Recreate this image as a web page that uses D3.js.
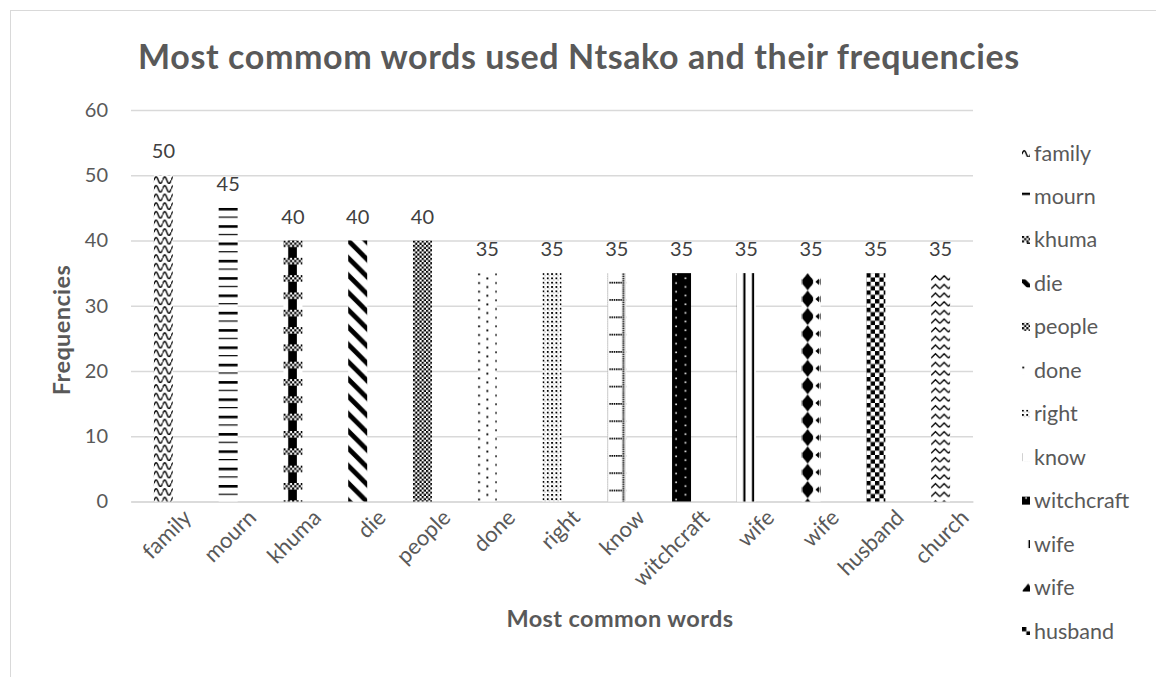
<!DOCTYPE html>
<html>
<head>
<meta charset="utf-8">
<script src="https://cdn.jsdelivr.net/npm/d3@7"></script>
<style>
  html, body { margin: 0; padding: 0; background: #ffffff; }
  svg { display: block; font-family: Lato, "Open Sans", sans-serif; }
</style>
</head>
<body>
<svg id="chart" width="1156" height="677"></svg>
<script>
// Word frequency data
const words = ["family", "mourn", "khuma", "die", "people", "done", "right", "know", "witchcraft", "wife", "wife", "husband", "church"];
const freqs = [50, 45, 40, 40, 40, 35, 35, 35, 35, 35, 35, 35, 35];
// Fill pattern used for each word's bar
const fills = ["wave", "hlines", "column", "diag", "fine", "sparse", "dots", "grid", "inverse", "vlines", "sphere", "checker", "zigzag"];
const yTicks = [0, 10, 20, 30, 40, 50, 60];
// The legend only has room for the first twelve series
const legendCount = 12;

const title = "Most commom words used Ntsako and their frequencies";
const xTitle = "Most common words";
const yTitle = "Frequencies";

const W = 1156, H = 677;
const plot = { left: 131, right: 973, top: 110, bottom: 501.5 };
const textColor = "#595959";
const gridColor = "#d9d9d9";
const font = "Lato, 'Open Sans', sans-serif";

const svg = d3.select("#chart");
const defs = svg.append("defs");

const x = d3.scaleBand()
  .domain(d3.range(words.length))
  .range([plot.left, plot.right])
  .paddingInner(0.707)
  .paddingOuter(0.3535);

const y = d3.scaleLinear().domain([0, 60]).range([plot.bottom, plot.top]);

// One pattern "pixel" and an 8-pixel tile
const u = 2.165;
const T = 8 * u;

// Builds a black-on-white pattern anchored at (ox, oy)
function makePattern(id, kind, ox, oy) {
  const sizes = {
    wave: [4 * u, 4 * u], hlines: [4 * u, 8 * u], column: [T, T], diag: [T, T],
    fine: [2 * u, 2 * u], sparse: [T, 4 * u], dots: [2 * u, 2 * u], grid: [T, T],
    inverse: [T, 4 * u], vlines: [4 * u, 4 * u], sphere: [T, T], checker: [4 * u, 4 * u],
    zigzag: [4 * u, 4 * u]
  };
  const [pw, ph] = sizes[kind];
  const p = defs.append("pattern")
    .attr("id", id)
    .attr("patternUnits", "userSpaceOnUse")
    .attr("x", ox).attr("y", oy)
    .attr("width", pw).attr("height", ph);
  const bg = kind === "inverse" ? "#000" : "#fff";
  p.append("rect").attr("width", pw).attr("height", ph).attr("fill", bg);
  const blk = "#000";
  switch (kind) {
    case "wave":
      p.append("path")
        .attr("d", `M0,${2.3 * u} C${0.7 * u},${0.3 * u} ${1.3 * u},${0.3 * u} ${2 * u},${2.3 * u} S${3.3 * u},${4.3 * u} ${4 * u},${2.3 * u}`)
        .attr("fill", "none").attr("stroke", blk).attr("stroke-width", 1.4);
      break;
    case "hlines":
      p.append("rect").attr("x", 0).attr("y", 0).attr("width", pw).attr("height", 2.6).attr("fill", blk);
      p.append("rect").attr("x", 0).attr("y", 4 * u).attr("width", pw).attr("height", 1.2).attr("fill", blk);
      break;
    case "column":
      p.append("rect").attr("x", 2.2 * u).attr("y", 0).attr("width", 4 * u).attr("height", ph).attr("fill", blk);
      p.append("rect").attr("x", 0).attr("y", 0).attr("width", pw).attr("height", 3 * u).attr("fill", "#fff");
      for (let r = 0; r < 3; r++) {
        for (let c = 0; c < 8; c++) {
          if ((r + c) % 2 === 0) {
            p.append("rect").attr("x", c * u).attr("y", r * u).attr("width", u).attr("height", u).attr("fill", blk);
          }
        }
      }
      break;
    case "diag":
      [[-6, -6, T + 6, T + 6], [-6, T - 6, 6, T + 6], [T - 6, -6, T + 6, 6]].forEach(([a, b, c, d]) => {
        p.append("line").attr("x1", a).attr("y1", b).attr("x2", c).attr("y2", d)
          .attr("stroke", blk).attr("stroke-width", 4.8);
      });
      break;
    case "fine":
      p.append("rect").attr("x", 0).attr("y", 0).attr("width", u).attr("height", u).attr("fill", blk);
      p.append("rect").attr("x", u).attr("y", u).attr("width", u).attr("height", u).attr("fill", blk);
      break;
    case "sparse":
      p.append("rect").attr("x", 0.3).attr("y", 0.3).attr("width", 1.9).attr("height", 1.9).attr("fill", blk);
      p.append("rect").attr("x", 4 * u).attr("y", 2 * u).attr("width", 1.9).attr("height", 1.9).attr("fill", blk);
      break;
    case "dots":
      p.append("rect").attr("x", 0).attr("y", 0).attr("width", 1.8).attr("height", 1.8).attr("fill", blk);
      p.append("rect").attr("x", u).attr("y", u).attr("width", 0.9).attr("height", 0.9).attr("fill", "#777");
      break;
    case "grid":
      p.append("rect").attr("x", 0).attr("y", 0).attr("width", 0.8).attr("height", ph).attr("fill", "#c8c8c8");
      for (let k = 0; k < 8; k++) {
        p.append("rect").attr("x", 7 * u).attr("y", k * u + 0.3).attr("width", 1.7).attr("height", 1.5).attr("fill", blk);
      }
      for (let k = 1; k < 7; k++) {
        p.append("rect").attr("x", k * u).attr("y", 4 * u).attr("width", 1.5).attr("height", 1.7).attr("fill", blk);
      }
      break;
    case "inverse":
      p.append("rect").attr("x", 1.5 * u).attr("y", 0.5).attr("width", 1.6).attr("height", 1.6).attr("fill", "#fff");
      p.append("rect").attr("x", 5.8 * u).attr("y", 2 * u).attr("width", 1.6).attr("height", 1.6).attr("fill", "#fff");
      break;
    case "vlines":
      p.append("rect").attr("x", 3 * u).attr("y", 0).attr("width", 1.1 * u).attr("height", ph).attr("fill", blk);
      break;
    case "sphere":
      p.append("path")
        .attr("d", `M${2.8 * u},0 L${5.2 * u},${3.2 * u} L${5.2 * u},${4.8 * u} L${2.8 * u},${8 * u} L${0.4 * u},${4.8 * u} L${0.4 * u},${3.2 * u} Z`)
        .attr("fill", blk);
      p.append("circle").attr("cx", 2.8 * u).attr("cy", 4 * u).attr("r", 2.5 * u).attr("fill", blk);
      p.append("path")
        .attr("d", `M${8 * u},${2.6 * u} L${6.4 * u},${4 * u} L${8 * u},${5.4 * u} Z`)
        .attr("fill", blk);
      break;
    case "checker":
      p.append("rect").attr("x", 0).attr("y", 0).attr("width", 2 * u).attr("height", 2 * u).attr("fill", blk);
      p.append("rect").attr("x", 2 * u).attr("y", 2 * u).attr("width", 2 * u).attr("height", 2 * u).attr("fill", blk);
      break;
    case "zigzag":
      p.append("path")
        .attr("d", `M0,${3.2 * u} L${2 * u},${1.2 * u} L${4 * u},${3.2 * u}`)
        .attr("fill", "none").attr("stroke", blk).attr("stroke-width", 1.4);
      break;
  }
  return id;
}

// Outer chart frame
svg.append("rect")
  .attr("x", 10.5).attr("y", 10.5)
  .attr("width", W + 20).attr("height", H + 20)
  .attr("fill", "#fff").attr("stroke", gridColor).attr("stroke-width", 1);

// Title
svg.append("text")
  .attr("x", 579).attr("y", 69)
  .attr("text-anchor", "middle")
  .attr("font-size", 34).attr("font-weight", 700)
  .attr("letter-spacing", 0.6)
  .attr("fill", textColor)
  .text(title);

// Horizontal gridlines and value axis labels
const yAxis = d3.axisLeft(y).tickValues(yTicks).tickSize(-(plot.right - plot.left)).tickPadding(23);
const gy = svg.append("g").attr("transform", `translate(${plot.left},0)`).call(yAxis);
gy.select(".domain").remove();
gy.selectAll(".tick line").attr("stroke", gridColor).attr("stroke-width", 1.3);
gy.selectAll(".tick text")
  .attr("fill", textColor).attr("font-size", 20).attr("font-family", font);

// Category axis with labels turned 45 degrees
const xAxis = d3.axisBottom(x).tickSize(0).tickFormat(i => words[i]);
const gx = svg.append("g").attr("transform", `translate(0,${plot.bottom})`).call(xAxis);
gx.select(".domain").attr("stroke", gridColor).attr("stroke-width", 1.3);
gx.selectAll(".tick text")
  .attr("fill", textColor).attr("font-size", 22).attr("font-family", font)
  .attr("text-anchor", "end")
  .attr("x", 0).attr("y", 0).attr("dy", "0.35em")
  .attr("transform", "translate(24,12) rotate(-45)");

// Bars
const idx = d3.range(words.length);
idx.forEach(i => makePattern(`pat-${i}`, fills[i], x(i), y(freqs[i])));
svg.append("g").selectAll("rect")
  .data(idx)
  .join("rect")
  .attr("x", i => x(i))
  .attr("y", i => y(freqs[i]))
  .attr("width", x.bandwidth())
  .attr("height", i => y(0) - y(freqs[i]))
  .attr("fill", i => `url(#pat-${i})`);

// Value labels above bars
svg.append("g").selectAll("text")
  .data(idx)
  .join("text")
  .attr("x", i => x(i) + x.bandwidth() / 2)
  .attr("y", i => y(freqs[i]) - 17)
  .attr("text-anchor", "middle")
  .attr("font-size", 20)
  .attr("fill", "#404040")
  .text(i => freqs[i]);

// Axis titles
svg.append("text")
  .attr("x", 620).attr("y", 627)
  .attr("text-anchor", "middle")
  .attr("font-size", 23.5).attr("font-weight", 700)
  .attr("letter-spacing", 0.4)
  .attr("fill", textColor)
  .text(xTitle);

svg.append("text")
  .attr("transform", "translate(70,330) rotate(-90)")
  .attr("text-anchor", "middle")
  .attr("font-size", 23.5).attr("font-weight", 700)
  .attr("letter-spacing", 0.4)
  .attr("fill", textColor)
  .text(yTitle);

// Legend
const legY = d3.scalePoint().domain(d3.range(legendCount)).range([153, 631]);
const leg = svg.append("g");
d3.range(legendCount).forEach(i => {
  const cy = legY(i);
  makePattern(`leg-${i}`, fills[i], 1022, cy - 4);
  leg.append("rect")
    .attr("x", 1022).attr("y", cy - 4)
    .attr("width", 8).attr("height", 8)
    .attr("fill", `url(#leg-${i})`);
  leg.append("text")
    .attr("x", 1034).attr("y", cy).attr("dy", "0.35em")
    .attr("font-size", 21.5)
    .attr("fill", textColor)
    .text(words[i]);
});
</script>
</body>
</html>
